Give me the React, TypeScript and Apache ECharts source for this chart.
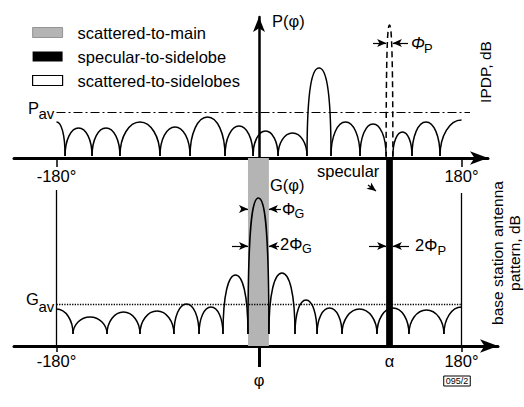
import { useEffect, useRef } from 'react';
import * as echarts from 'echarts';

// ---- data (angles in degrees, levels in relative units above each panel's axis) ----
const upperLobeFrom = [-180, -172.4, -148.4, -123.6, -88.0, -61.3, -30.2, -5.3, 16.9, 42.7, 64.0, 89.8, 119, 136.0, 160.9];
const upperLobeTo = [-172.4, -148.4, -123.6, -88.0, -61.3, -30.2, -5.3, 16.9, 42.7, 64.0, 89.8, 113, 136.0, 160.9, 180];
const upperLobePeak = [36, 30, 30, 36, 31, 41, 32, 27, 25, 90, 36, 34, 26, 36, 38];

const lowerLobeFrom = [-180, -165.3, -135.1, -105.8, -75.6, -53.3, -32.0, -9.8, 8.8, 32.0, 51.6, 73.8, 104.9, 133.3, 164.4];
const lowerLobeTo = [-165.3, -135.1, -105.8, -75.6, -53.3, -32.0, -9.8, 8.8, 32.0, 51.6, 73.8, 104.9, 133.3, 164.4, 180];
const lowerLobePeak = [37, 29, 34, 35, 42, 39, 71, 148, 73, 46, 38, 37, 38, 36, 39];

const SPECULAR_ANGLE = 116; // alpha
const PHI_P = 3;
const SPECULAR_PEAK = 133;
const BEAM_CENTER = -0.5;
const PHI_G = 9.3;
const P_AV = 46;
const G_AV = 42;
const UPPER_NULL = 2;
const LOWER_NULL = 12;
const edgeTicks = [-180, 180];
const lowerLabels = [-180, SPECULAR_ANGLE, 180];
const beamTick = [0];

// ---- layout helpers ----
const FONT = '"Liberation Sans", Arial, Helvetica, sans-serif';
const ZERO_PX = 259;
const PX_PER_DEG = 1.125;
const degAt = (px: number) => (px - ZERO_PX) / PX_PER_DEG;
const UP_LEFT = 14, UP_RIGHT_PX = 488, LOW_RIGHT_PX = 498;
const LOWER_TOP = 188;

const lobeKind = (from: number, to: number) => (from <= -180 ? 1 : to >= 180 ? 2 : 0);
const upperData = upperLobeFrom.map((f, i) => [f, upperLobeTo[i], upperLobePeak[i], UPPER_NULL, lobeKind(f, upperLobeTo[i])]);
const lowerData = lowerLobeFrom.map((f, i) => [f, lowerLobeTo[i], lowerLobePeak[i], LOWER_NULL, lobeKind(f, lowerLobeTo[i])]);

const KH = 0.55;
const kv = (h: number, w: number) => Math.min(0.85, 0.5 + 0.04 * (h / Math.max(1, Math.abs(w))));
function lobePath(api: any, dash: boolean) {
  const a = api.value(0), b = api.value(1), peak = api.value(2), floor = api.value(3), kind = api.value(4);
  let d = '';
  if (kind === 0) {
    const p0 = api.coord([a, floor]);
    const pt = api.coord([(a + b) / 2, peak]);
    const p1 = api.coord([b, floor]);
    const h = p0[1] - pt[1];
    const k = kv(h, pt[0] - p0[0]);
    d = `M${p0[0]},${p0[1]} C${p0[0]},${p0[1] - k * h} ${pt[0] - KH * (pt[0] - p0[0])},${pt[1]} ${pt[0]},${pt[1]} ` +
      `C${pt[0] + KH * (p1[0] - pt[0])},${pt[1]} ${p1[0]},${p1[1] - k * h} ${p1[0]},${p1[1]}`;
  } else if (kind === 1) {
    const pt = api.coord([a, peak]);
    const p1 = api.coord([b, floor]);
    const h = p1[1] - pt[1];
    const k = kv(h, p1[0] - pt[0]);
    d = `M${pt[0]},${pt[1]} C${pt[0] + KH * (p1[0] - pt[0])},${pt[1]} ${p1[0]},${p1[1] - k * h} ${p1[0]},${p1[1]}`;
  } else {
    const p0 = api.coord([a, floor]);
    const pt = api.coord([b, peak]);
    const h = p0[1] - pt[1];
    const k = kv(h, pt[0] - p0[0]);
    d = `M${p0[0]},${p0[1]} C${p0[0]},${p0[1] - k * h} ${pt[0] - KH * (pt[0] - p0[0])},${pt[1]} ${pt[0]},${pt[1]}`;
  }
  return {
    type: 'path',
    shape: { pathData: d },
    style: { fill: 'none', stroke: '#000', lineWidth: 1.5, lineDash: dash ? [6, 4] : null },
  };
}

const rectRender = (_p: any, api: any) => {
  const p0 = api.coord([api.value(0), api.value(3)]);
  const p1 = api.coord([api.value(1), api.value(2)]);
  return {
    type: 'rect',
    shape: { x: p0[0], y: p0[1], width: p1[0] - p0[0], height: p1[1] - p0[1] },
    style: api.style(),
  };
};

const seg = (a: number[], b: number[], lineStyle: any = {}) => [
  { coord: a, symbol: 'none', lineStyle: { color: '#000', width: 1.3, type: 'solid', ...lineStyle } },
  { coord: b, symbol: 'none' },
];
const arrow = (a: number[], b: number[]) => [
  { coord: a, symbol: 'none', lineStyle: { color: '#000', width: 1.2, type: 'solid' } },
  { coord: b, symbol: 'arrow', symbolSize: [6, 9] },
];

const txt = (text: string, x: number, y: number, size = 16.5, extra: any = {}, align = 'left') => ({
  type: 'text', x, y, silent: true,
  style: {
    text, fill: '#000', fontSize: size, fontFamily: FONT,
    align, verticalAlign: 'middle', textAlign: align, textVerticalAlign: 'middle', ...extra,
  },
});

export default function App() {
  const ref = useRef<HTMLDivElement>(null);
  useEffect(() => {
    const chart = echarts.init(ref.current!, null, { renderer: 'svg' });
    const axisFont = { fontSize: 16.5, fontFamily: FONT, color: '#000' };
    const thickLine = { show: true, onZero: false, symbol: ['none', 'arrow'], symbolSize: [10, 18], lineStyle: { color: '#000', width: 3 } };
    const option: any = {
      animation: false,
      backgroundColor: '#fff',
      grid: [
        { left: UP_LEFT, right: 524 - UP_RIGHT_PX, top: 17, bottom: 407 - 158 },
        { left: UP_LEFT, right: 524 - LOW_RIGHT_PX, top: 158, bottom: 407 - 346 },
      ],
      xAxis: [
        {
          type: 'value', gridIndex: 0, min: degAt(UP_LEFT), max: degAt(UP_RIGHT_PX), position: 'bottom',
          axisLine: thickLine,
          axisTick: { show: true, customValues: edgeTicks, length: 9, lineStyle: { color: '#000', width: 1.5 } },
          axisLabel: { show: true, customValues: edgeTicks, margin: 9, formatter: (v: number) => `${v}°`, ...axisFont },
          splitLine: { show: false },
        },
        {
          type: 'value', gridIndex: 1, min: degAt(UP_LEFT), max: degAt(LOW_RIGHT_PX), position: 'bottom',
          axisLine: thickLine,
          axisTick: { show: true, customValues: edgeTicks, length: 6, lineStyle: { color: '#000', width: 1.5 } },
          axisLabel: {
            show: true, customValues: lowerLabels, margin: 6,
            formatter: (v: number) => (v === SPECULAR_ANGLE ? 'α' : `${v}°`), ...axisFont,
          },
          splitLine: { show: false },
        },
        {
          type: 'value', gridIndex: 1, min: degAt(UP_LEFT), max: degAt(LOW_RIGHT_PX), position: 'bottom',
          axisLine: { show: false, onZero: false },
          axisTick: { show: true, customValues: beamTick, length: 21, lineStyle: { color: '#000', width: 3 } },
          axisLabel: { show: true, customValues: beamTick, margin: 25, formatter: () => 'φ', ...axisFont },
          splitLine: { show: false },
        },
      ],
      yAxis: [
        {
          type: 'value', gridIndex: 0, min: 0, max: 141,
          axisLine: { show: true, onZero: true, symbol: ['none', 'arrow'], symbolSize: [9, 15], lineStyle: { color: '#000', width: 2.5 } },
          axisTick: { show: false }, axisLabel: { show: false }, splitLine: { show: false },
        },
        {
          type: 'value', gridIndex: 1, min: 0, max: LOWER_TOP, show: false,
          splitLine: { show: false },
        },
      ],
      legend: {
        orient: 'vertical', left: 27, top: 19, itemWidth: 30, itemHeight: 10, itemGap: 7,
        icon: 'rect', selectedMode: false,
        textStyle: { fontSize: 16.5, fontFamily: FONT, color: '#000', lineHeight: 16, padding: [0, 0, 0, 10] },
        data: [
          { name: 'scattered-to-main', itemStyle: { color: '#b4b4b4', borderColor: '#666', borderWidth: 0.6 } },
          { name: 'specular-to-sidelobe', itemStyle: { color: '#000' } },
          { name: 'scattered-to-sidelobes', itemStyle: { color: '#fff', borderColor: '#000', borderWidth: 1.2 } },
        ],
      },
      series: [
        {
          name: 'scattered-to-main', type: 'custom', xAxisIndex: 1, yAxisIndex: 1, z: 1, silent: true,
          itemStyle: { color: '#b4b4b4' }, renderItem: rectRender,
          data: [[BEAM_CENTER - PHI_G, BEAM_CENTER + PHI_G, 0, LOWER_TOP]],
        },
        {
          name: 'scattered-to-sidelobes', type: 'custom', xAxisIndex: 1, yAxisIndex: 1, z: 1, silent: true,
          itemStyle: { color: '#fff' }, renderItem: rectRender, data: [],
        },
        {
          name: 'upper lobes', type: 'custom', xAxisIndex: 0, yAxisIndex: 0, z: 3, silent: true, clip: false,
          renderItem: (_p: any, api: any) => lobePath(api, false), data: upperData,
        },
        {
          name: 'specular spike', type: 'custom', xAxisIndex: 0, yAxisIndex: 0, z: 3, silent: true, clip: false,
          renderItem: (_p: any, api: any) => lobePath(api, true),
          data: [[SPECULAR_ANGLE - PHI_P, SPECULAR_ANGLE + PHI_P, SPECULAR_PEAK, 0, 0]],
        },
        {
          name: 'lower lobes', type: 'custom', xAxisIndex: 1, yAxisIndex: 1, z: 3, silent: true, clip: false,
          renderItem: (_p: any, api: any) => lobePath(api, false), data: lowerData,
        },
        {
          name: 'specular-to-sidelobe', type: 'custom', xAxisIndex: 1, yAxisIndex: 1, z: 4, silent: true,
          itemStyle: { color: '#000' }, renderItem: rectRender,
          data: [[SPECULAR_ANGLE - PHI_P, SPECULAR_ANGLE + PHI_P, 0, LOWER_TOP]],
        },
        {
          name: 'upper marks', type: 'line', xAxisIndex: 0, yAxisIndex: 0, data: [], silent: true, clip: false, z: 5,
          markLine: {
            silent: true, symbol: ['none', 'none'], label: { show: false }, animation: false,
            data: [
              seg([-180, P_AV], [degAt(470), P_AV], { type: [9, 3, 2, 3], width: 1.2 }),
              arrow([degAt(373), 115], [SPECULAR_ANGLE - PHI_P, 115]),
              arrow([degAt(408), 115], [SPECULAR_ANGLE + PHI_P, 115]),
            ],
          },
        },
        {
          name: 'lower marks', type: 'line', xAxisIndex: 1, yAxisIndex: 1, data: [], silent: true, clip: false, z: 5,
          markLine: {
            silent: true, symbol: ['none', 'none'], label: { show: false }, animation: false,
            data: [
              seg([-180, 0], [-180, 156]),
              seg([180, 0], [180, 153]),
              seg([-180, G_AV], [180, G_AV], { type: 'dotted', width: 1.3 }),
              arrow([degAt(241), 137], [BEAM_CENTER - PHI_G, 137]),
              arrow([degAt(281), 137], [BEAM_CENTER + PHI_G, 137]),
              arrow([degAt(232), 100], [BEAM_CENTER - PHI_G, 100]),
              arrow([degAt(279), 100], [BEAM_CENTER + PHI_G, 100]),
              arrow([degAt(369), 100], [SPECULAR_ANGLE - PHI_P, 100]),
              arrow([degAt(409), 100], [SPECULAR_ANGLE + PHI_P, 100]),
              arrow([degAt(368), 161], [degAt(376), 155]),
            ],
          },
        },
      ],
      graphic: [
        txt('P', 28, 107.5), txt('av', 38.5, 113.5, 15),
        txt('G', 26, 299), txt('av', 38.5, 306, 15),
        txt('P(φ)', 272, 20.5),
        txt('Φ', 411, 43, 16.5, { fontStyle: 'italic' }), txt('P', 424, 48, 13),
        txt('G(φ)', 270, 185),
        txt('Φ', 282, 209), txt('G', 294.5, 214, 12.5),
        txt('2Φ', 280, 244), txt('G', 302, 249, 12.5),
        txt('specular', 317, 171),
        txt('2Φ', 415, 245), txt('P', 437.5, 250, 13),
        { ...txt('IPDP, dB', 485, 72, 15.5, {}, 'center'), rotation: Math.PI / 2 },
        { ...txt('base station antenna\npattern, dB', 506, 253, 15.5, { lineHeight: 17 }, 'center'), rotation: Math.PI / 2 },
        txt('095/2', 457, 381, 9, { borderColor: '#000', borderWidth: 1, padding: [1, 2, 0, 2] }, 'center'),
      ],
    };
    chart.setOption(option);
    return () => chart.dispose();
  }, []);
  return <div ref={ref} style={{ position: 'fixed', left: 0, top: 0, width: 524, height: 407 }} />;
}
